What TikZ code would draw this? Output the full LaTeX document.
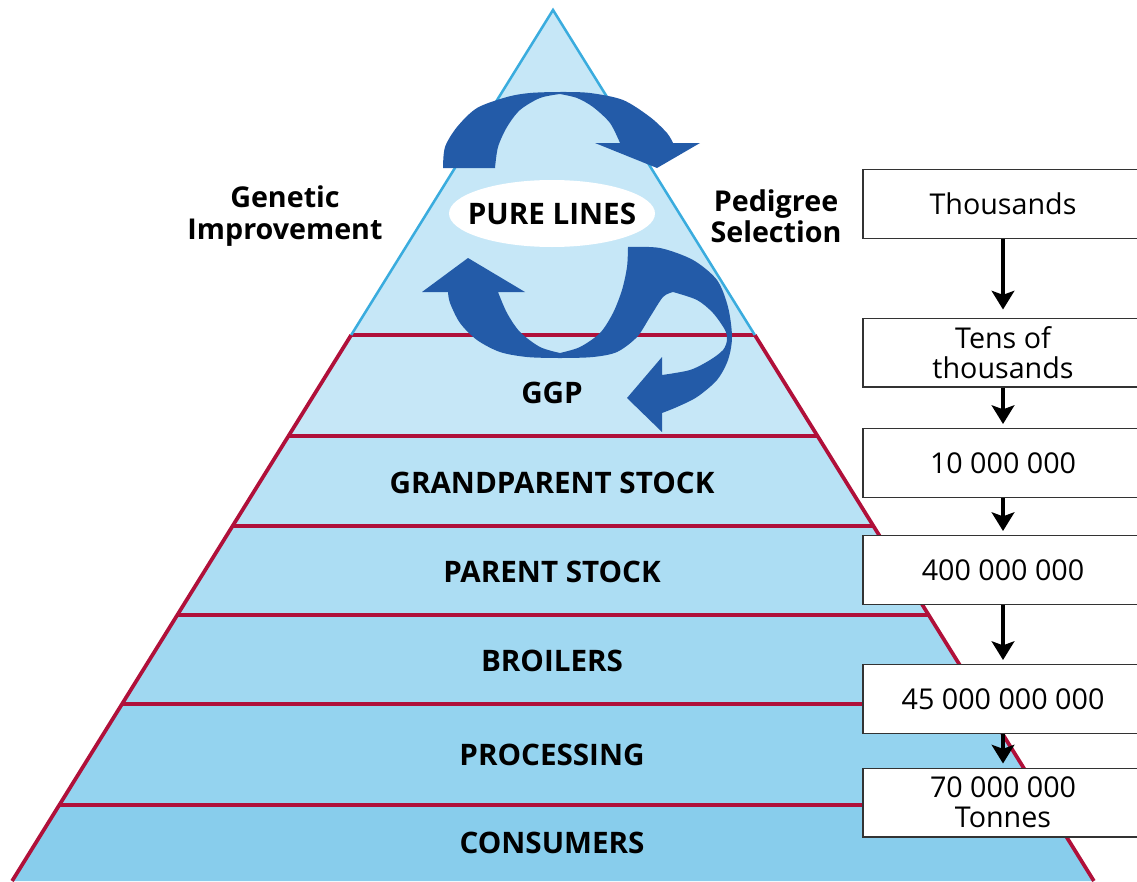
\documentclass[tikz,border=0pt]{standalone}
\usepackage{fontspec}
\setmainfont{Open Sans}
\usetikzlibrary{arrows.meta}

\definecolor{loopblue}{RGB}{35,91,168}
\definecolor{bandred}{RGB}{176,16,58}
\definecolor{topline}{RGB}{58,172,222}
\definecolor{bandA}{RGB}{198,231,247}
\definecolor{bandB}{RGB}{184,226,245}
\definecolor{bandC}{RGB}{172,221,243}
\definecolor{bandD}{RGB}{160,216,241}
\definecolor{bandE}{RGB}{148,211,239}
\definecolor{bandF}{RGB}{136,205,236}

\begin{document}
\begin{tikzpicture}[x=0.75pt,y=0.75pt,yscale=-1,xscale=1,
  level/.style={font=\fontsize{22.2}{24}\selectfont\bfseries, inner sep=0.75pt},
  side/.style={font=\fontsize{21.5}{23.5}\selectfont\bfseries, align=center, inner sep=0.75pt},
  countbox/.style={draw=black!80, line width=1.1pt, fill=white, minimum width=210pt, minimum height=51.4pt, align=center, inner sep=0pt, font=\fontsize{21.5}{22.5}\selectfont},
  flow/.style={-{Stealth[length=14pt,width=17pt,inset=3pt]}, line width=2.6pt, shorten >=3pt},
  redline/.style={draw=bandred, line width=2.8pt},
]
%set diagram to 1137 x 881
\useasboundingbox (0,0) rectangle (1137,881);

%Shape: pyramid bands
\fill[bandA] (553,10) -- (817.5,436) -- (288.5,436) -- cycle;
\fill[bandB] (288.5,436) -- (817.5,436) -- (873.4,526) -- (232.6,526) -- cycle;
\fill[bandC] (232.6,526) -- (873.4,526) -- (928.7,615) -- (177.3,615) -- cycle;
\fill[bandD] (177.3,615) -- (928.7,615) -- (984,704) -- (122,704) -- cycle;
\fill[bandE] (122,704) -- (984,704) -- (1046.7,805) -- (59.3,805) -- cycle;
\fill[bandF] (59.3,805) -- (1046.7,805) -- (1093.9,881) -- (12.1,881) -- cycle;

%Straight Lines: band borders
\draw[redline] (351.2,335) -- (12.1,881);
\draw[redline] (754.8,335) -- (1093.9,881);
\draw[redline] (351.2,335) -- (754.8,335);
\draw[redline] (288.5,436) -- (817.5,436);
\draw[redline] (232.6,526) -- (873.4,526);
\draw[redline] (177.3,615) -- (928.7,615);
\draw[redline] (122,704) -- (984,704);
\draw[redline] (59.3,805) -- (1046.7,805);
%Straight Lines: top triangle
\draw[topline, line width=1.9pt, line join=miter] (351.2,335) -- (553,10) -- (754.8,335);

%Shape: upper loop arrow
\fill[loopblue] plot[smooth] coordinates {(443,168) (445,147) (457,127) (477,108) (507,97) (530,93) (560,92) (590,93) (623,100) (650,117) (667,133) (673,143)}
  -- (700,143) -- (657,168) -- (595,143) -- (620,143)
  -- plot[smooth] coordinates {(620,143) (610,123) (593,107) (577,98) (560,94)}
  -- plot[smooth] coordinates {(560,94) (540,98) (520,110) (507,127) (498,147) (495,168)}
  -- cycle;
%Shape: lower loop arrow
\fill[loopblue] (468,258) -- (525,292) -- (498,292)
  -- plot[smooth] coordinates {(498,292) (507,313) (520,332) (540,347) (560,353)}
  -- plot[smooth] coordinates {(560,353) (580,347) (600,333) (613,313) (622,290) (627,267) (628,247)}
  -- plot[smooth] coordinates {(628,247) (660,248) (693,260) (717,280) (728,307) (732,337) (728,360) (717,380) (697,397) (677,407) (662,413)}
  -- (662,432) -- (627,398) -- (662,357) -- (662,375)
  -- plot[smooth] coordinates {(662,375) (690,370) (710,360) (723,350) (727,340) (725,330) (713,313) (697,300) (673,292)}
  -- plot[smooth] coordinates {(673,292) (663,297) (650,317) (637,337) (617,352) (593,357) (560,358) (527,357) (500,352) (477,340) (460,323) (450,303) (448,292)}
  -- (422,292) -- cycle;

%Shape: ellipse behind the top label
\fill[white] (552,213.5) ellipse [x radius=103, y radius=33.5];
% Text Node
\node[level] (pure) at (552,213.5) {PURE LINES};
% Text Node
\node[side] (genetic) at (285,216) {Genetic\\Improvement};
% Text Node
\node[side] (pedigree) at (776,216) {Pedigree\\Selection};
% Text Node
\node[level] (ggp) at (552,393) {GGP};
\node[level] (gps) at (552,483) {GRANDPARENT STOCK};
\node[level] (ps) at (552,572) {PARENT STOCK};
\node[level] (broil) at (552,661) {BROILERS};
\node[level] (proc) at (552,755) {PROCESSING};
\node[level] (cons) at (552,843) {CONSUMERS};

%Shape: count boxes
\node[countbox] (thousands) at (1003,204) {Thousands};
\node[countbox] (tens) at (1003,352.5) {Tens of\\thousands};
\node[countbox] (tenmil) at (1003,463) {10 000 000};
\node[countbox] (fourhund) at (1003,570) {400 000 000};
\node[countbox] (fortyfive) at (1003,699) {45 000 000 000};
\node[countbox] (tonnes) at (1003,802.5) {70 000 000\\Tonnes};

%Straight Lines: flow arrows
\draw[flow, shorten >=6pt] (thousands) -- (tens);
\draw[flow] (tens) -- (tenmil);
\draw[flow] (tenmil) -- (fourhund);
\draw[flow] (fourhund) -- (fortyfive);
\draw[flow] (fortyfive) -- (tonnes);

\end{tikzpicture}
\end{document}
